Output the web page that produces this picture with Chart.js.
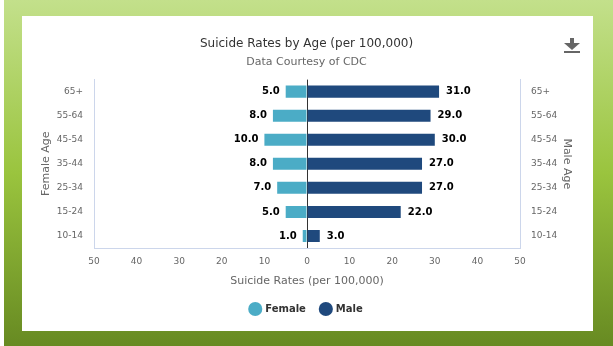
<!DOCTYPE html>
<html>
<head>
<meta charset="utf-8">
<script src="https://cdn.jsdelivr.net/npm/chart.js@4"></script>
<style>
  html, body { margin: 0; padding: 0; background: #fff; }
  #bg {
    position: absolute; left: 4px; top: 0; width: 609px; height: 346px;
    background: linear-gradient(to bottom, #c3e08b 0%, #9ac43e 50%, #678a22 100%);
  }
  #card {
    position: absolute; left: 22px; top: 16px; width: 571px; height: 315px;
    background: #fff;
  }
</style>
</head>
<body>
<div id="bg"></div>
<div id="card"><canvas id="ageChart"></canvas></div>
<script>
const AGE_GROUPS = ["65+", "55-64", "45-54", "35-44", "25-34", "15-24", "10-14"];
const FEMALE_RATES = [5, 8, 10, 8, 7, 5, 1];
const MALE_RATES = [31, 29, 30, 27, 27, 22, 3];

const FEMALE_COLOR = "#4bacc6";
const MALE_COLOR = "#1f497d";
const AXIS_LINE = "#ccd6eb";
const LABEL_GRAY = "#666666";

Chart.defaults.font.family = "'DejaVu Sans', sans-serif";

// value labels at the outer end of each bar
const barValueLabels = {
  id: "barValueLabels",
  afterDatasetsDraw(chart) {
    const ctx = chart.ctx;
    ctx.save();
    ctx.font = "bold 10px 'DejaVu Sans', sans-serif";
    ctx.fillStyle = "#000";
    ctx.textBaseline = "middle";
    chart.data.datasets.forEach((ds, i) => {
      const meta = chart.getDatasetMeta(i);
      meta.data.forEach((bar, j) => {
        const v = ds.data[j];
        const text = Math.abs(v).toFixed(1);
        if (v < 0) {
          ctx.textAlign = "right";
          ctx.fillText(text, bar.x - 6, bar.y);
        } else {
          ctx.textAlign = "left";
          ctx.fillText(text, bar.x + 7, bar.y);
        }
      });
    });
    ctx.restore();
  },
};

// export button glyph in the top right corner
const downloadIcon = {
  id: "downloadIcon",
  afterDraw(chart) {
    const ctx = chart.ctx;
    ctx.save();
    ctx.fillStyle = "#666";
    ctx.fillRect(548, 22, 4, 6);
    ctx.beginPath();
    ctx.moveTo(542, 27);
    ctx.lineTo(558, 27);
    ctx.lineTo(550, 34);
    ctx.closePath();
    ctx.fill();
    ctx.fillRect(542, 35, 16, 2);
    ctx.restore();
  },
};

new Chart(document.getElementById("ageChart"), {
  type: "bar",
  data: {
    labels: AGE_GROUPS,
    datasets: [
      {
        label: "Female",
        data: FEMALE_RATES.map((v) => -v),
        backgroundColor: FEMALE_COLOR,
        categoryPercentage: 1,
        barPercentage: 0.5,
      },
      {
        label: "Male",
        data: MALE_RATES,
        backgroundColor: MALE_COLOR,
        categoryPercentage: 1,
        barPercentage: 0.5,
      },
    ],
  },
  options: {
    indexAxis: "y",
    responsive: true,
    maintainAspectRatio: false,
    animation: false,
    layout: { padding: { left: 14, right: 16, top: 0, bottom: 7 } },
    scales: {
      x: {
        stacked: true,
        min: -50,
        max: 50,
        ticks: {
          stepSize: 10,
          padding: 8,
          color: LABEL_GRAY,
          font: { size: 9 },
          callback: (v) => Math.abs(v),
        },
        grid: {
          drawTicks: false,
          color: (c) => (c.tick && c.tick.value === 0 ? "#333333" : "rgba(0,0,0,0)"),
        },
        border: { display: true, color: AXIS_LINE },
        title: {
          display: true,
          text: "Suicide Rates (per 100,000)",
          color: LABEL_GRAY,
          font: { size: 11 },
          padding: { top: 0, bottom: 1 },
        },
      },
      y: {
        stacked: true,
        position: "left",
        ticks: { padding: 11, color: LABEL_GRAY, font: { size: 9 } },
        grid: { display: false, drawTicks: false },
        border: { display: true, color: AXIS_LINE },
        title: {
          display: true,
          text: "Female Age",
          color: LABEL_GRAY,
          font: { size: 11 },
        },
        afterFit: (scale) => { scale.width = 58; },
      },
      y2: {
        type: "category",
        labels: AGE_GROUPS,
        position: "right",
        offset: true,
        ticks: { padding: 11, color: LABEL_GRAY, font: { size: 9 } },
        grid: { display: false, drawTicks: false },
        border: { display: true, color: AXIS_LINE },
        title: {
          display: true,
          text: "Male Age",
          color: LABEL_GRAY,
          font: { size: 11 },
        },
        afterFit: (scale) => { scale.width = 57; },
      },
    },
    plugins: {
      title: {
        display: true,
        text: "Suicide Rates by Age (per 100,000)",
        color: "#333333",
        font: { size: 12, weight: "normal" },
        padding: { top: 21, bottom: 0 },
      },
      subtitle: {
        display: true,
        text: "Data Courtesy of CDC",
        color: LABEL_GRAY,
        font: { size: 11 },
        padding: { top: 4, bottom: 11 },
      },
      legend: {
        position: "bottom",
        labels: {
          usePointStyle: true,
          pointStyle: "circle",
          boxWidth: 10,
          boxHeight: 10,
          padding: 15,
          color: "#333333",
          font: { size: 10, weight: "bold" },
        },
      },
      tooltip: { enabled: false },
    },
  },
  plugins: [barValueLabels, downloadIcon],
});
</script>
</body>
</html>
